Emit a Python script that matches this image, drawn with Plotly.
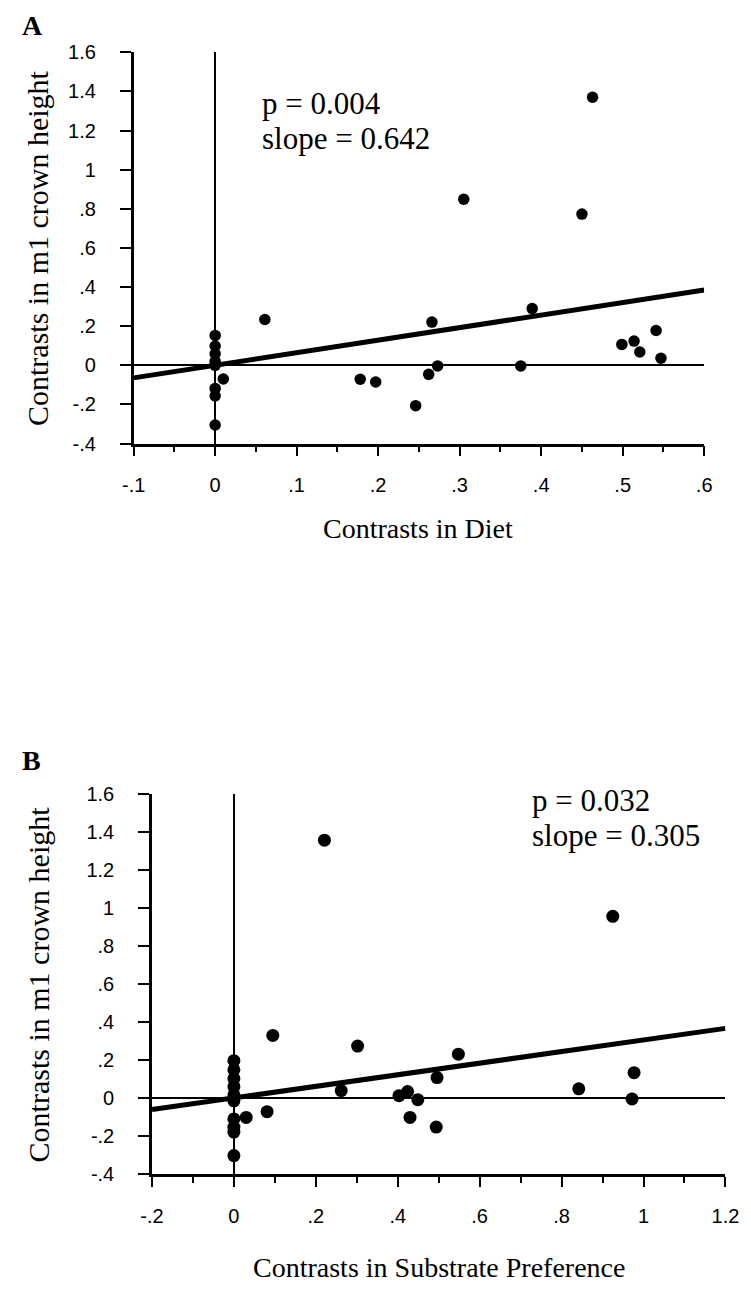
import plotly.graph_objects as go

# ---------------- Data ----------------
# Panel A: contrasts in diet vs contrasts in m1 crown height
diet_x = [0.463, 0.305, 0.450, 0.061, 0.010, 0.178, 0.197, 0.246, 0.262, 0.273,
          0.266, 0.375, 0.389, 0.499, 0.514, 0.521, 0.541, 0.547,
          0.0, 0.0, 0.0, 0.0, 0.0, 0.0, 0.0, 0.0]
diet_y = [1.370, 0.849, 0.773, 0.234, -0.070, -0.071, -0.085, -0.206, -0.046, -0.003,
          0.221, -0.003, 0.290, 0.107, 0.124, 0.068, 0.178, 0.036,
          0.153, 0.099, 0.059, 0.020, 0.000, -0.118, -0.156, -0.305]
slope_a = 0.642
p_a = "0.004"

# Panel B: contrasts in substrate preference vs contrasts in m1 crown height
subs_x = [0.221, 0.925, 0.095, 0.302, 0.548, 0.496, 0.977, 0.842, 0.972, 0.262,
          0.403, 0.424, 0.449, 0.081, 0.030, 0.430, 0.494,
          0.0, 0.0, 0.0, 0.0, 0.0, 0.0, 0.0, 0.0, 0.0, 0.0]
subs_y = [1.355, 0.955, 0.329, 0.273, 0.230, 0.107, 0.133, 0.048, -0.005, 0.039,
          0.012, 0.034, -0.009, -0.072, -0.102, -0.102, -0.153,
          0.196, 0.148, 0.102, 0.060, 0.017, -0.015, -0.110, -0.153, -0.179, -0.303]
slope_b = 0.305
p_b = "0.032"

# Axis ticks
xa_ticks = [-0.1, 0.0, 0.1, 0.2, 0.3, 0.4, 0.5, 0.6]
xa_labels = ["-.1", "0", ".1", ".2", ".3", ".4", ".5", ".6"]
xa_minor = [-0.05, 0.05, 0.15, 0.25, 0.35, 0.45, 0.55]
xb_ticks = [-0.2, 0.0, 0.2, 0.4, 0.6, 0.8, 1.0, 1.2]
xb_labels = ["-.2", "0", ".2", ".4", ".6", ".8", "1", "1.2"]
xb_minor = [-0.1, 0.1, 0.3, 0.5, 0.7, 0.9, 1.1]
y_ticks = [-0.4, -0.2, 0.0, 0.2, 0.4, 0.6, 0.8, 1.0, 1.2, 1.4, 1.6]
y_labels = ["-.4", "-.2", "0", ".2", ".4", ".6", ".8", "1", "1.2", "1.4", "1.6"]

y_title = "Contrasts in m1 crown height"
xa_title = "Contrasts in Diet"
xb_title = "Contrasts in Substrate Preference"

# ---------------- Figure ----------------
W, H = 751, 1306
SERIF = "Liberation Serif, Times New Roman, serif"
SANS = "Liberation Sans, Arial, Helvetica, sans-serif"


def px(x):
    return x / W


def py(y):
    return 1 - y / H


fig = go.Figure()

xr_a = [xa_ticks[0], xa_ticks[-1]]
xr_b = [xb_ticks[0], xb_ticks[-1]]

fig.add_trace(go.Scatter(x=xr_a, y=[slope_a * v for v in xr_a], mode="lines",
                         line=dict(color="black", width=5), xaxis="x", yaxis="y",
                         hoverinfo="skip"))
fig.add_trace(go.Scatter(x=diet_x, y=diet_y, mode="markers",
                         marker=dict(color="black", size=11.5), xaxis="x", yaxis="y",
                         cliponaxis=False))
fig.add_trace(go.Scatter(x=xr_b, y=[slope_b * v for v in xr_b], mode="lines",
                         line=dict(color="black", width=5), xaxis="x2", yaxis="y2",
                         hoverinfo="skip"))
fig.add_trace(go.Scatter(x=subs_x, y=subs_y, mode="markers",
                         marker=dict(color="black", size=13), xaxis="x2", yaxis="y2",
                         cliponaxis=False))


def xaxis_cfg(domain, ticks, labels, minor, anchor):
    return dict(
        domain=domain, range=[ticks[0], ticks[-1]], anchor=anchor,
        tickmode="array", tickvals=ticks, ticktext=labels,
        ticks="outside", ticklen=10, tickwidth=2, tickcolor="black",
        minor=dict(tickmode="array", tickvals=minor, ticks="outside",
                   ticklen=6, tickwidth=2, tickcolor="black", showgrid=False),
        showline=True, linewidth=2.5, linecolor="black",
        zeroline=True, zerolinewidth=2, zerolinecolor="black",
        showgrid=False, tickfont=dict(family=SANS, size=20, color="black"),
        ticklabelstandoff=12, fixedrange=True,
    )


def yaxis_cfg(domain, anchor):
    return dict(
        domain=domain, range=[y_ticks[0], y_ticks[-1]], anchor=anchor,
        tickmode="array", tickvals=y_ticks, ticktext=y_labels,
        ticks="outside", ticklen=11, tickwidth=2, tickcolor="black",
        showline=True, linewidth=2.5, linecolor="black",
        zeroline=True, zerolinewidth=2, zerolinecolor="black",
        showgrid=False, tickfont=dict(family=SANS, size=20, color="black"),
        ticklabelstandoff=20, fixedrange=True,
    )


fig.update_layout(
    width=W, height=H,
    margin=dict(l=0, r=0, t=0, b=0),
    paper_bgcolor="white", plot_bgcolor="white",
    showlegend=False,
    xaxis=xaxis_cfg([px(126), px(717)], xa_ticks, xa_labels, xa_minor, "y"),
    yaxis=yaxis_cfg([py(440), py(42)], "x"),
    xaxis2=xaxis_cfg([px(145), px(739)], xb_ticks, xb_labels, xb_minor, "y2"),
    yaxis2=yaxis_cfg([py(1183), py(796)], "x2"),
)

ann = []
# Panel letters
ann.append(dict(text="<b>A</b>", x=px(8), y=py(15), xanchor="left", yanchor="middle",
                font=dict(family=SERIF, size=28, color="black")))
ann.append(dict(text="<b>B</b>", x=px(8), y=py(762), xanchor="left", yanchor="middle",
                font=dict(family=SERIF, size=28, color="black")))
# Y titles
ann.append(dict(text=y_title, x=px(27), y=py(241), textangle=-90, xanchor="center",
                yanchor="middle", font=dict(family=SERIF, size=30, color="black")))
ann.append(dict(text=y_title, x=px(27), y=py(990), textangle=-90, xanchor="center",
                yanchor="middle", font=dict(family=SERIF, size=30, color="black")))
# X titles
ann.append(dict(text=xa_title, x=px(421), y=py(526), xanchor="center", yanchor="middle",
                font=dict(family=SERIF, size=28, color="black")))
ann.append(dict(text=xb_title, x=px(442), y=py(1278), xanchor="center", yanchor="middle",
                font=dict(family=SERIF, size=28, color="black")))
# Stats text
ann.append(dict(text="p = " + p_a, x=px(257), y=py(94), xanchor="left", yanchor="middle",
                font=dict(family=SERIF, size=31, color="black")))
ann.append(dict(text="slope = " + str(slope_a), x=px(257), y=py(130), xanchor="left",
                yanchor="middle", font=dict(family=SERIF, size=31, color="black")))
ann.append(dict(text="p = " + p_b, x=px(537), y=py(803), xanchor="left", yanchor="middle",
                font=dict(family=SERIF, size=31, color="black")))
ann.append(dict(text="slope = " + str(slope_b), x=px(537), y=py(839), xanchor="left",
                yanchor="middle", font=dict(family=SERIF, size=31, color="black")))

for a in ann:
    a.update(xref="paper", yref="paper", showarrow=False)
fig.update_layout(annotations=ann)

fig.write_html("out.html", config={"displayModeBar": False},
               post_script="document.body.style.margin='0';")
